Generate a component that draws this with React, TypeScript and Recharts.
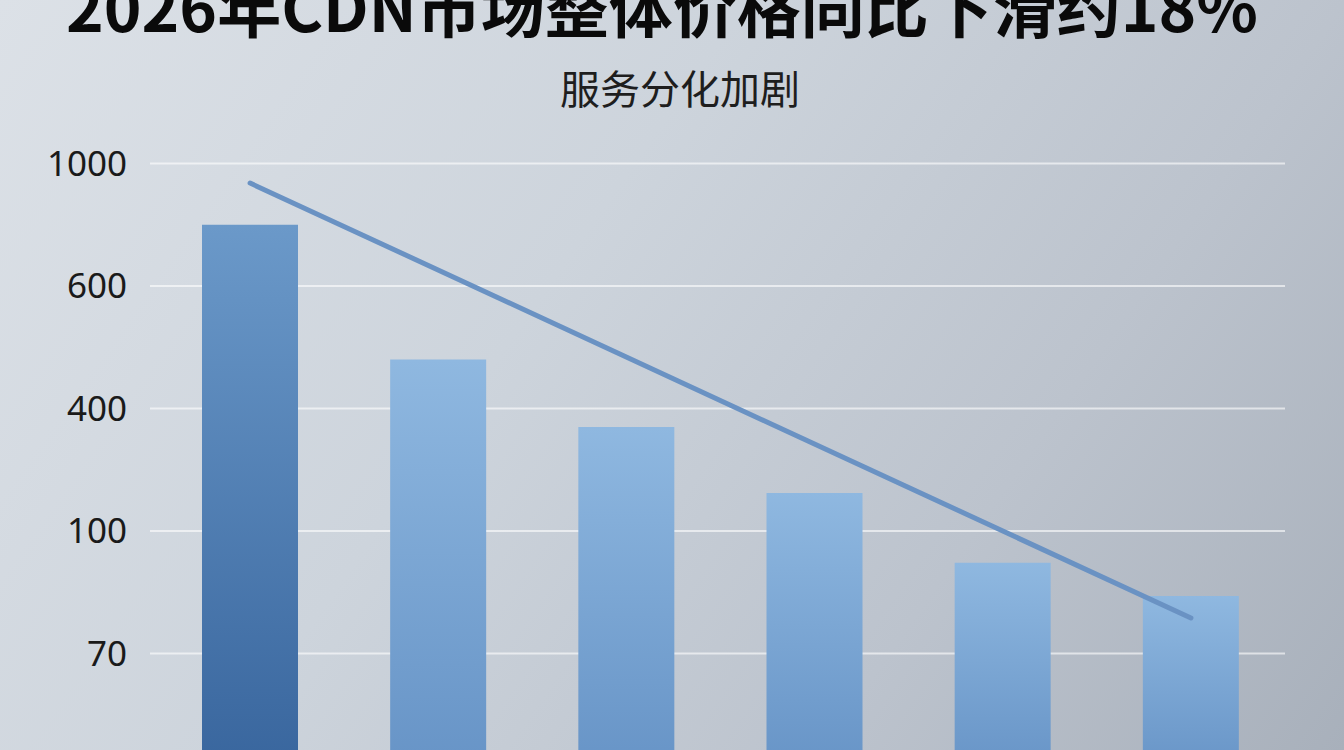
import { Bar, Line, XAxis, YAxis, CartesianGrid, Cell, ComposedChart } from 'recharts'

// axis positions: the y labels are evenly spaced, so values are kept in tick units
const tickPositions = [1, 2, 3, 4, 5]
const tickLabels = ['70', '100', '400', '600', '1000']

const categories = ['A', 'B', 'C', 'D', 'E', 'F']
const barLevels = [4.5, 3.4, 2.85, 2.31, 1.74, 1.47]
const trendLevels: (number | null)[] = [4.84, null, null, null, null, 1.29]

const data = categories.map((name, i) => ({
  name,
  value: barLevels[i],
  trend: trendLevels[i]
}))

function App(): JSX.Element {
  return (
    <div
      style={{
        position: 'fixed',
        left: 0,
        top: 0,
        width: 1344,
        height: 750,
        overflow: 'hidden',
        background: 'linear-gradient(125deg, #dce1e7 0%, #cdd4dc 40%, #bcc3cd 72%, #a8b0bb 100%)',
        fontFamily: '"Noto Sans CJK SC", "Noto Sans", sans-serif'
      }}
    >
      <div
        style={{
          position: 'absolute',
          top: -28,
          left: -10,
          width: 1344,
          textAlign: 'center',
          fontSize: 64,
          lineHeight: '64px',
          fontWeight: 700,
          color: '#0a0a0a',
          whiteSpace: 'nowrap'
        }}
      >
        2026年CDN市场整体价格同比下滑约18%
      </div>
      <div
        style={{
          position: 'absolute',
          top: 67,
          left: 8,
          width: 1344,
          textAlign: 'center',
          fontSize: 40,
          lineHeight: '40px',
          fontWeight: 400,
          color: '#1e1e1e'
        }}
      >
        服务分化加剧
      </div>
      <div style={{ position: 'absolute', left: 0, top: 0 }}>
        <ComposedChart
          width={1344}
          height={776}
          data={data}
          margin={{ top: 139, right: 59, bottom: 0, left: 0 }}
        >
          <defs>
            <linearGradient id="barDark" x1="0" y1="0" x2="0" y2="1">
              <stop offset="0%" stopColor="#6b99c9" />
              <stop offset="100%" stopColor="#38659d" />
            </linearGradient>
            <linearGradient id="barLight" x1="0" y1="0" x2="0" y2="1">
              <stop offset="0%" stopColor="#8fb8e0" />
              <stop offset="100%" stopColor="#6693c6" />
            </linearGradient>
          </defs>
          <CartesianGrid
            vertical={false}
            horizontalValues={tickPositions}
            stroke="rgba(255,255,255,0.6)"
            strokeWidth={2}
          />
          <XAxis dataKey="name" hide padding={{ left: 6, right: 0 }} />
          <YAxis
            type="number"
            domain={[0, 5.2]}
            ticks={tickPositions}
            tickFormatter={(v: number) => tickLabels[tickPositions.indexOf(v)]}
            width={150}
            axisLine={false}
            tickLine={false}
            tickSize={0}
            tickMargin={23}
            tick={{ fontSize: 35, fill: '#1a1a1a', fontFamily: '"Noto Sans", sans-serif' }}
          />
          <Bar dataKey="value" barSize={96} isAnimationActive={false}>
            {data.map((d, i) => (
              <Cell key={d.name} fill={i === 0 ? 'url(#barDark)' : 'url(#barLight)'} />
            ))}
          </Bar>
          <Line
            type="linear"
            dataKey="trend"
            connectNulls
            stroke="#6a92c3"
            strokeWidth={5}
            strokeLinecap="round"
            dot={false}
            activeDot={false}
            isAnimationActive={false}
          />
        </ComposedChart>
      </div>
    </div>
  )
}

export default App
